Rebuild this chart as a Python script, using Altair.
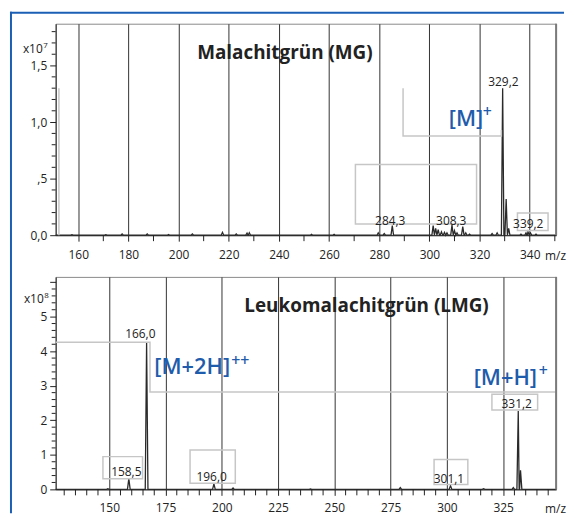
import altair as alt
import pandas as pd

# ---------------- data ----------------
# Top panel: Malachitgrün (MG), intensity in units of 1e7
mg_mz = [157.5, 171.0, 177.5, 187.5, 196.0, 205.5, 217.5, 223.0, 227.3, 228.2,
         253.0, 262.0, 279.6, 282.0, 285.2, 301.5, 302.5, 303.5, 304.8, 306.0,
         307.0, 309.0, 310.0, 311.0, 313.3, 314.5, 316.0, 325.0, 327.0, 329.2,
         330.6, 331.6, 336.5, 338.5, 339.3, 340.3, 342.5]
mg_int = [0.005, 0.005, 0.012, 0.012, 0.006, 0.012, 0.025, 0.012, 0.018, 0.022,
          0.008, 0.008, 0.02, 0.015, 0.085, 0.085, 0.06, 0.05, 0.03, 0.025,
          0.02, 0.09, 0.04, 0.02, 0.075, 0.02, 0.01, 0.015, 0.02, 1.30,
          0.32, 0.06, 0.01, 0.02, 0.03, 0.02, 0.01]
mg_label_text = ["329,2", "284,3", "308,3", "339,2"]
mg_label_mz = [329.5, 284.4, 308.7, 339.4]
mg_label_int = [1.317, 0.088, 0.088, 0.061]
mg_box_x1 = [270.5, 335.1]
mg_box_x2 = [318.8, 347.3]
mg_box_y1 = [0.099, 0.041]
mg_box_y2 = [0.626, 0.196]
mg_path_mz = [289.5, 289.5, 328.7, 328.7]
mg_path_int = [1.30, 0.878, 0.878, 0.93]
mg_stray_mz = [152.3, 152.3]
mg_stray_int = [0.0, 1.30]
mg_x_major = [160, 180, 200, 220, 240, 260, 280, 300, 320, 340]
mg_x_minor = [170, 190, 210, 230, 250, 270, 290, 310, 330, 350]
mg_y_major = [0.0, 0.5, 1.0, 1.5]
mg_y_minor = [0.1, 0.2, 0.3, 0.4, 0.6, 0.7, 0.8, 0.9, 1.1, 1.2, 1.3, 1.4, 1.6, 1.7, 1.8]

# Bottom panel: Leukomalachitgrün (LMG), intensity in units of 1e8
lmg_mz = [149.4, 158.7, 166.6, 196.5, 205.0, 239.4, 279.3, 301.6, 316.3, 329.5, 331.7, 332.7]
lmg_int = [0.02, 0.31, 4.25, 0.16, 0.04, 0.01, 0.05, 0.11, 0.02, 0.05, 2.27, 0.55]
lmg_label_text = ["166,0", "158,5", "196,0", "301,1", "331,2"]
lmg_label_mz = [163.8, 157.6, 195.5, 300.9, 331.0]
lmg_label_int = [4.37, 0.40, 0.24, 0.19, 2.365]
lmg_box_x1 = [147.2, 185.9, 294.3, 320.0]
lmg_box_x2 = [164.8, 206.0, 309.3, 340.3]
lmg_box_y1 = [0.307, 0.18, 0.144, 2.30]
lmg_box_y2 = [0.948, 1.14, 0.862, 2.75]
lmg_path_mz = [126.2, 168.1, 168.1, 348.5]
lmg_path_int = [4.26, 4.26, 2.816, 2.816]
lmg_x_major = [150, 175, 200, 225, 250, 275, 300, 325]
lmg_x_minor = [130, 135, 140, 145, 155, 160, 165, 170, 180, 185, 190, 195, 205, 210, 215,
               220, 230, 235, 240, 245, 255, 260, 265, 270, 280, 285, 290, 295, 305, 310,
               315, 320, 330, 335, 340, 345]
lmg_y_major = [0, 1, 2, 3, 4, 5, 6]
lmg_y_minor = [0.2, 0.4, 0.6, 0.8, 1.2, 1.4, 1.6, 1.8, 2.2, 2.4, 2.6, 2.8, 3.2, 3.4, 3.6,
               3.8, 4.2, 4.4, 4.6, 4.8, 5.2, 5.4, 5.6, 5.8]

MG_X = [151.0, 350.5]
MG_Y = [0.0, 1.87]
LMG_X = [126.2, 348.5]
LMG_Y = [0.0, 6.15]

FONT = "Open Sans"
DARK = "#222222"
BLUE = "#1f5cab"
BOXC = "#c6c6c6"
W = 504


def profile(mzs, ints, w, lo, hi):
    pts = [(lo, 0.0)]
    for m, h in zip(mzs, ints):
        pts += [(m - w, 0.0), (m, h), (m + w, 0.0)]
    pts.append((hi, 0.0))
    return pd.DataFrame(pts, columns=["mz", "i"])


def panel(mzs, ints, halfw, xdom, ydom, xmaj, xmin, ymaj, ymin, ylabel_expr,
          labels, boxes, paths, title_txt, title_pos, blue_items, exp_txt, exp_pos,
          xlabel_pad, titleY, height, extra=None):
    xs = alt.Scale(domain=xdom, nice=False, zero=False)
    ys = alt.Scale(domain=ydom, nice=False, zero=False)
    x = alt.X("mz:Q", scale=xs,
              axis=alt.Axis(values=xmaj, tickCount=100, labelOverlap=False, grid=True,
                            gridColor="#333333", gridWidth=1,
                            tickSize=6, tickColor=DARK, domainColor=DARK, labelFont=FONT,
                            labelFontSize=12, labelColor=DARK, labelPadding=xlabel_pad,
                            labelFlush=False,
                            title="m/z", titleFont=FONT, titleFontSize=12, titleFontWeight="normal",
                            titleColor=DARK, titleX=503, titleY=titleY, titleAlign="center",
                            titleBaseline="alphabetic", titleAnchor="start"))
    y = alt.Y("i:Q", scale=ys,
              axis=alt.Axis(values=ymaj, tickCount=100, labelExpr=ylabel_expr, grid=False,
                            labelOverlap=False, tickSize=6, tickColor=DARK, domainColor=DARK,
                            labelFont=FONT, labelFontSize=12, labelColor=DARK, labelPadding=3,
                            title=None))
    prof = profile(mzs, ints, halfw, xdom[0], xdom[1])
    layers = [alt.Chart(prof).mark_line(color="#2a2a2a", strokeWidth=1.3).encode(x=x, y=y)]
    # minor ticks
    layers.append(alt.Chart(pd.DataFrame({"mz": xmin})).mark_rule(color=DARK, strokeWidth=1).encode(
        x=alt.X("mz:Q", scale=xs), y=alt.value(height), y2=alt.value(height + 6)))
    layers.append(alt.Chart(pd.DataFrame({"i": ymin})).mark_rule(color=DARK, strokeWidth=1).encode(
        y=alt.Y("i:Q", scale=ys), x=alt.value(-4), x2=alt.value(0)))
    bx = pd.DataFrame(boxes, columns=["x1", "x2", "y1", "y2"])
    layers.append(alt.Chart(bx).mark_rect(fillOpacity=0, stroke=BOXC, strokeWidth=1.5).encode(
        x=alt.X("x1:Q", scale=xs), x2="x2:Q", y=alt.Y("y1:Q", scale=ys), y2="y2:Q"))
    pdf = pd.DataFrame(paths, columns=["g", "o", "mz", "i"])
    layers.append(alt.Chart(pdf).mark_line(color=BOXC, strokeWidth=1.5).encode(
        x=alt.X("mz:Q", scale=xs), y=alt.Y("i:Q", scale=ys), detail="g:N", order="o:Q"))
    ldf = pd.DataFrame(labels, columns=["t", "mz", "i"])
    layers.append(alt.Chart(ldf).mark_text(font=FONT, fontSize=12, color=DARK, baseline="alphabetic").encode(
        x="mz:Q", y="i:Q", text="t:N"))
    tdf = pd.DataFrame([[title_txt, title_pos[0], title_pos[1]]], columns=["t", "mz", "i"])
    layers.append(alt.Chart(tdf).mark_text(font=FONT, fontSize=19, fontWeight="bold", color=DARK,
                                           baseline="alphabetic").encode(x="mz:Q", y="i:Q", text="t:N"))
    for txt, m, v, sz in blue_items:
        bdf = pd.DataFrame([[txt, m, v]], columns=["t", "mz", "i"])
        layers.append(alt.Chart(bdf).mark_text(font=FONT, fontSize=sz, fontWeight=600, color=BLUE,
                                               align="left", baseline="alphabetic").encode(
            x="mz:Q", y="i:Q", text="t:N"))
    # exponent label left of the y axis
    e1 = pd.DataFrame({"t": ["x10"]})
    e2 = pd.DataFrame({"t": [exp_txt]})
    layers.append(alt.Chart(e1).mark_text(font=FONT, fontSize=12, color=DARK, align="right",
                                          baseline="alphabetic").encode(
        x=alt.value(exp_pos[0]), y=alt.value(exp_pos[1]), text="t:N"))
    layers.append(alt.Chart(e2).mark_text(font=FONT, fontSize=8, color=DARK, align="left",
                                          baseline="alphabetic").encode(
        x=alt.value(exp_pos[0] + 0.5), y=alt.value(exp_pos[1] - 5), text="t:N"))
    # right frame (thicker)
    layers.append(alt.Chart(pd.DataFrame({"a": [0]})).mark_rule(color="#7a7a7a", strokeWidth=2).encode(
        x=alt.value(W), y=alt.value(0), y2=alt.value(height)))
    if extra:
        layers += extra
    return alt.layer(*layers).properties(width=W, height=height)


mg_boxes = list(zip(mg_box_x1, mg_box_x2, mg_box_y1, mg_box_y2))
mg_paths = [(0, k, m, v) for k, (m, v) in enumerate(zip(mg_path_mz, mg_path_int))] + \
           [(1, k, m, v) for k, (m, v) in enumerate(zip(mg_stray_mz, mg_stray_int))]
lmg_boxes = list(zip(lmg_box_x1, lmg_box_x2, lmg_box_y1, lmg_box_y2))
lmg_paths = [(0, k, m, v) for k, (m, v) in enumerate(zip(lmg_path_mz, lmg_path_int))]

border = [
    alt.Chart(pd.DataFrame({"a": [0]})).mark_rule(color="#1a5fb4", strokeWidth=2).encode(
        x=alt.value(-46), x2=alt.value(512), y=alt.value(-11)),
    alt.Chart(pd.DataFrame({"a": [0]})).mark_rule(color="#1a5fb4", strokeWidth=2).encode(
        x=alt.value(-45), y=alt.value(-12), y2=alt.value(493)),
]

top = panel(
    mg_mz, mg_int, 0.5, MG_X, MG_Y, mg_x_major, mg_x_minor, mg_y_major, mg_y_minor,
    "datum.value == 0.5 ? ',5' : replace(format(datum.value, '.1f'), '.', ',')",
    list(zip(mg_label_text, mg_label_mz, mg_label_int)),
    mg_boxes, mg_paths,
    "Malachitgrün (MG)", (242.4, 1.554),
    [("[M]", 307.7, 0.966, 22), ("+", 321.3, 1.045, 16)],
    "7", (-13, 29), 8, 24, 213, extra=border)

bottom = panel(
    lmg_mz, lmg_int, 0.6, LMG_X, LMG_Y, lmg_x_major, lmg_x_minor, lmg_y_major, lmg_y_minor,
    "datum.value == 6 ? '' : '' + datum.value",
    list(zip(lmg_label_text, lmg_label_mz, lmg_label_int)),
    lmg_boxes, lmg_paths,
    "Leukomalachitgrün (LMG)", (264.3, 5.14),
    [("[M+2H]", 170.0, 3.33, 22), ("++", 204.2, 3.56, 16),
     ("[M+H]", 311.9, 3.02, 22), ("+", 340.8, 3.28, 16)],
    "8", (-12, 26), 7, 23, 214)

chart = alt.vconcat(top, bottom, spacing=42, bounds="flush").properties(
    padding=0, background="white"
).configure_view(stroke="#8a8a8a", strokeWidth=1)

chart.save("out.html", embed_options={"renderer": "svg", "actions": False})
